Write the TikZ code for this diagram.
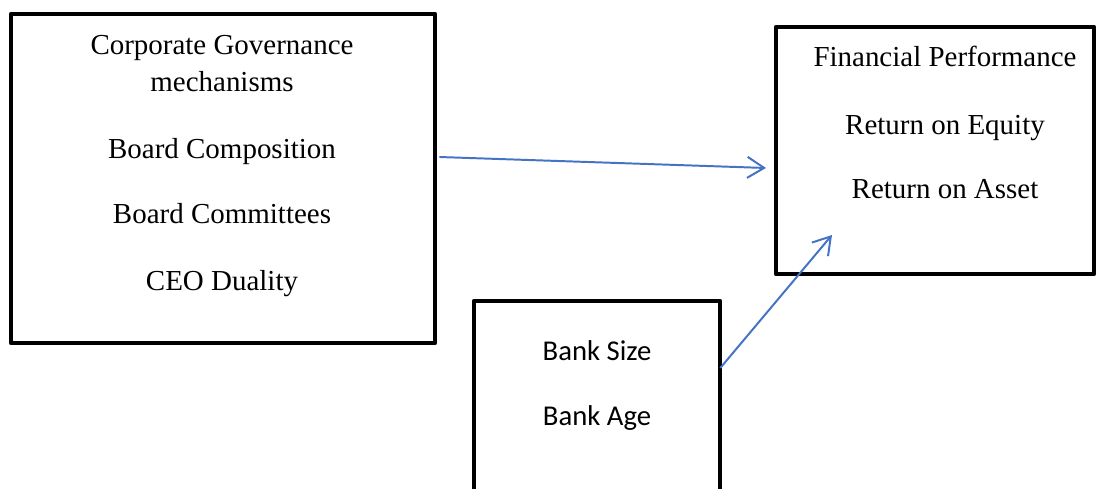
\documentclass[tikz,border=0pt]{standalone}
\usepackage{fontspec}
\setmainfont{Liberation Serif}
\newfontfamily\calibrifont{Carlito}
\usetikzlibrary{arrows.meta,positioning,calc}
\definecolor{linkblue}{RGB}{68,114,196}

\begin{document}
\begin{tikzpicture}[x=0.025cm, y=0.025cm,
    box/.style={draw, rectangle, line width=3.2pt, line join=round, inner sep=0pt},
    boxtext/.style={anchor=base, inner sep=0pt, font=\fontsize{20.6}{24}\selectfont},
    link/.style={linkblue, line width=1.4pt, -{Straight Barb[length=12pt,width=15pt]}}]
    \useasboundingbox (0,0) rectangle (1104,488);

    % Corporate governance box (left)
    \node[box, minimum width=10.6cm, minimum height=8.225cm] (cgm) at (223,309.5) {};
    \node[boxtext] (cgmTitle) at (222,433) {Corporate Governance};
    \node[boxtext] (cgmTitleB) at (222,396) {mechanisms};
    \node[boxtext] (boardComp) at (222,329) {Board Composition};
    \node[boxtext] (boardComm) at (222,264) {Board Committees};
    \node[boxtext] (ceoDual) at (222,198) {CEO Duality};

    % Financial performance box (right)
    \node[box, minimum width=7.95cm, minimum height=6.175cm] (finPerf) at (935,337.5) {};
    \node[boxtext] (finTitle) at (945,421) {Financial Performance};
    \node[boxtext] (roe) at (945,353) {Return on Equity};
    \node[boxtext] (roa) at (945,289) {Return on Asset};

    % Bank controls box (bottom)
    \node[box, minimum width=6.15cm, minimum height=5.475cm] (bankCtrl) at (597,77.5) {};
    \node[boxtext, font=\calibrifont\fontsize{20.4}{24}\selectfont] (bankSize) at (597,128) {Bank Size};
    \node[boxtext, font=\calibrifont\fontsize{20.4}{24}\selectfont] (bankAge) at (597,63) {Bank Age};

    % Arrows
    \coordinate (finIn) at (766,320);
    \coordinate (finInB) at (832,253);
    \draw[link] ($(cgm.east)+(2,21.5)$) -- (finIn);
    \draw[link] ($(bankCtrl.east)+(-2,42.5)$) -- (finInB);
\end{tikzpicture}
\end{document}
